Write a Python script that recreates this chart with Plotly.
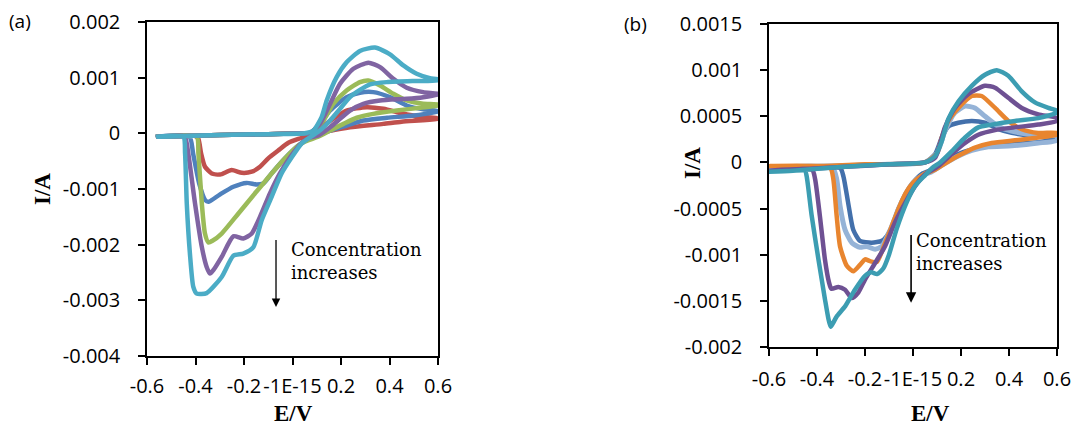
import plotly.graph_objects as go

# ---------------- data: panel (a), current in A ----------------
a_red_x = [-0.555, -0.45, -0.3, -0.1, 0.03, 0.07, 0.12, 0.168, 0.223, 0.306, 0.375, 0.45, 0.52, 0.6,
           0.6, 0.45, 0.374, 0.237, 0.15, 0.072, 0.024, -0.017, -0.059, -0.100, -0.134, -0.168, -0.209,
           -0.251, -0.299, -0.333, -0.361, -0.377, -0.388, -0.40, -0.555]
a_red_y = [-0.06e-3, -0.05e-3, -0.03e-3, -0.015e-3, 0.0, 0.0, 0.12e-3, 0.26e-3, 0.41e-3, 0.47e-3, 0.44e-3, 0.36e-3, 0.30e-3, 0.27e-3,
           0.26e-3, 0.21e-3, 0.17e-3, 0.11e-3, 0.04e-3, -0.04e-3, -0.10e-3, -0.17e-3, -0.31e-3, -0.45e-3, -0.60e-3, -0.69e-3, -0.71e-3,
           -0.66e-3, -0.74e-3, -0.72e-3, -0.60e-3, -0.36e-3, -0.10e-3, -0.05e-3, -0.06e-3]

a_blue_x = [-0.555, -0.45, -0.3, -0.1, 0.03, 0.07, 0.11, 0.155, 0.223, 0.278, 0.333, 0.402, 0.471, 0.539, 0.6,
            0.6, 0.5, 0.39, 0.292, 0.223, 0.155, 0.1, 0.05, 0.024, -0.031, -0.086, -0.12, -0.148, -0.189,
            -0.244, -0.30, -0.347, -0.36, -0.385, -0.41, -0.425, -0.555]
a_blue_y = [-0.06e-3, -0.05e-3, -0.03e-3, -0.015e-3, 0.0, 0.0, 0.15e-3, 0.41e-3, 0.65e-3, 0.73e-3, 0.74e-3, 0.65e-3, 0.50e-3, 0.43e-3, 0.40e-3,
            0.39e-3, 0.32e-3, 0.28e-3, 0.23e-3, 0.14e-3, 0.05e-3, -0.04e-3, -0.14e-3, -0.22e-3, -0.45e-3, -0.72e-3, -0.90e-3, -0.92e-3, -0.89e-3,
            -0.96e-3, -1.10e-3, -1.23e-3, -1.20e-3, -0.90e-3, -0.36e-3, -0.06e-3, -0.06e-3]

a_green_x = [-0.555, -0.45, -0.3, -0.1, 0.03, 0.07, 0.127, 0.168, 0.223, 0.278, 0.313, 0.361, 0.416, 0.471, 0.539, 0.6,
             0.6, 0.526, 0.43, 0.333, 0.265, 0.21, 0.155, 0.1, 0.05, 0.024, -0.031, -0.086, -0.155, -0.223,
             -0.292, -0.33, -0.347, -0.361, -0.374, -0.388, -0.395, -0.555]
a_green_y = [-0.06e-3, -0.05e-3, -0.03e-3, -0.015e-3, 0.0, 0.0, 0.23e-3, 0.53e-3, 0.77e-3, 0.92e-3, 0.95e-3, 0.86e-3, 0.71e-3, 0.59e-3, 0.53e-3, 0.52e-3,
             0.50e-3, 0.46e-3, 0.41e-3, 0.35e-3, 0.28e-3, 0.17e-3, 0.05e-3, -0.07e-3, -0.15e-3, -0.22e-3, -0.45e-3, -0.72e-3, -1.08e-3, -1.44e-3,
             -1.80e-3, -1.93e-3, -1.96e-3, -1.80e-3, -1.26e-3, -0.36e-3, -0.06e-3, -0.06e-3]

a_purple_x = [-0.555, -0.45, -0.3, -0.1, 0.03, 0.07, 0.113, 0.155, 0.196, 0.251, 0.313, 0.361, 0.416, 0.471, 0.539, 0.6,
              0.6, 0.539, 0.471, 0.361, 0.292, 0.237, 0.196, 0.155, 0.106, 0.07, 0.038, -0.01, -0.052, -0.093, -0.134,
              -0.168, -0.203, -0.244, -0.292, -0.325, -0.34, -0.354, -0.374, -0.402, -0.43, -0.445, -0.555]
a_purple_y = [-0.06e-3, -0.05e-3, -0.03e-3, -0.015e-3, 0.0, 0.0, 0.17e-3, 0.53e-3, 0.89e-3, 1.16e-3, 1.27e-3, 1.19e-3, 0.98e-3, 0.82e-3, 0.74e-3, 0.71e-3,
              0.70e-3, 0.65e-3, 0.62e-3, 0.59e-3, 0.53e-3, 0.41e-3, 0.26e-3, 0.11e-3, -0.04e-3, -0.08e-3, -0.17e-3, -0.43e-3, -0.72e-3, -1.08e-3, -1.50e-3,
              -1.80e-3, -1.89e-3, -1.85e-3, -2.22e-3, -2.45e-3, -2.52e-3, -2.40e-3, -2.04e-3, -1.26e-3, -0.36e-3, -0.06e-3, -0.06e-3]

a_cyan_x = [-0.555, -0.45, -0.3, -0.1, 0.05, 0.086, 0.12, 0.141, 0.182, 0.224, 0.278, 0.34, 0.402, 0.457, 0.512, 0.567, 0.6,
            0.6, 0.498, 0.388, 0.32, 0.278, 0.237, 0.196, 0.155, 0.113, 0.079, 0.038, -0.003, -0.045, -0.086, -0.127,
            -0.162, -0.203, -0.244, -0.292, -0.354, -0.395, -0.409, -0.423, -0.436, -0.443, -0.45, -0.555]
a_cyan_y = [-0.06e-3, -0.05e-3, -0.03e-3, -0.015e-3, 0.0, 0.05e-3, 0.29e-3, 0.59e-3, 1.01e-3, 1.28e-3, 1.48e-3, 1.54e-3, 1.42e-3, 1.22e-3, 1.07e-3, 0.99e-3, 0.97e-3,
            0.95e-3, 0.94e-3, 0.92e-3, 0.88e-3, 0.78e-3, 0.65e-3, 0.44e-3, 0.23e-3, 0.05e-3, -0.05e-3, -0.18e-3, -0.43e-3, -0.72e-3, -1.14e-3, -1.56e-3,
            -2.05e-3, -2.16e-3, -2.20e-3, -2.58e-3, -2.87e-3, -2.88e-3, -2.76e-3, -2.16e-3, -1.26e-3, -0.36e-3, -0.06e-3, -0.06e-3]

# ---------------- data: panel (b), current in A ----------------
b_dblue_x = [-0.6, -0.3, -0.1, 0.05, 0.092, 0.12, 0.147, 0.189, 0.245, 0.3, 0.356, 0.411, 0.494, 0.6,
             0.6, 0.522, 0.411, 0.314, 0.245, 0.189, 0.133, 0.078, 0.04, 0.0, -0.03, -0.06, -0.085, -0.11, -0.13,
             -0.172, -0.221, -0.249, -0.27, -0.29, -0.304, -0.6]
b_dblue_y = [-0.05e-3, -0.04e-3, -0.02e-3, 0.0, 0.09e-3, 0.27e-3, 0.39e-3, 0.43e-3, 0.45e-3, 0.43e-3, 0.36e-3, 0.32e-3, 0.29e-3, 0.27e-3,
             0.26e-3, 0.22e-3, 0.20e-3, 0.18e-3, 0.14e-3, 0.09e-3, 0.01e-3, -0.08e-3, -0.12e-3, -0.22e-3, -0.34e-3, -0.50e-3, -0.68e-3, -0.80e-3, -0.85e-3,
             -0.87e-3, -0.85e-3, -0.73e-3, -0.44e-3, -0.15e-3, -0.06e-3, -0.05e-3]

b_lblue_x = [-0.6, -0.35, -0.1, 0.05, 0.1, 0.133, 0.175, 0.217, 0.258, 0.3, 0.356, 0.411, 0.494, 0.6,
             0.6, 0.522, 0.411, 0.314, 0.245, 0.189, 0.133, 0.078, 0.04, 0.0, -0.03, -0.06, -0.09, -0.13, -0.158,
             -0.193, -0.221, -0.255, -0.283, -0.304, -0.318, -0.335, -0.6]
b_lblue_y = [-0.05e-3, -0.04e-3, -0.02e-3, 0.0, 0.10e-3, 0.34e-3, 0.54e-3, 0.61e-3, 0.59e-3, 0.50e-3, 0.39e-3, 0.34e-3, 0.30e-3, 0.28e-3,
             0.24e-3, 0.21e-3, 0.18e-3, 0.17e-3, 0.13e-3, 0.07e-3, -0.01e-3, -0.10e-3, -0.14e-3, -0.22e-3, -0.34e-3, -0.50e-3, -0.70e-3, -0.91e-3, -0.94e-3,
             -0.91e-3, -0.92e-3, -0.87e-3, -0.73e-3, -0.47e-3, -0.18e-3, -0.06e-3, -0.05e-3]

b_orange_x = [-0.6, -0.4, -0.2, 0.05, 0.1, 0.12, 0.147, 0.189, 0.245, 0.286, 0.342, 0.397, 0.453, 0.522, 0.6,
              0.6, 0.522, 0.425, 0.328, 0.258, 0.203, 0.147, 0.092, 0.05, 0.0, -0.03, -0.06, -0.09, -0.12, -0.151,
              -0.179, -0.2, -0.221, -0.249, -0.276, -0.304, -0.318, -0.332, -0.345, -0.6]
b_orange_y = [-0.04e-3, -0.04e-3, -0.02e-3, 0.0, 0.10e-3, 0.27e-3, 0.45e-3, 0.59e-3, 0.72e-3, 0.72e-3, 0.59e-3, 0.45e-3, 0.36e-3, 0.32e-3, 0.32e-3,
              0.30e-3, 0.27e-3, 0.24e-3, 0.21e-3, 0.16e-3, 0.09e-3, 0.01e-3, -0.08e-3, -0.12e-3, -0.22e-3, -0.33e-3, -0.50e-3, -0.70e-3, -0.90e-3, -1.08e-3,
              -1.07e-3, -1.05e-3, -1.11e-3, -1.18e-3, -1.12e-3, -0.91e-3, -0.58e-3, -0.18e-3, -0.06e-3, -0.04e-3]

b_purple_x = [-0.6, -0.45, -0.3, -0.1, 0.05, 0.092, 0.133, 0.175, 0.23, 0.3, 0.342, 0.397, 0.453, 0.522, 0.6,
              0.6, 0.522, 0.425, 0.342, 0.272, 0.217, 0.161, 0.105, 0.05, 0.008, -0.033, -0.075, -0.117, -0.158, -0.2,
              -0.228, -0.255, -0.283, -0.311, -0.34, -0.35, -0.367, -0.388, -0.408, -0.42, -0.6]
b_purple_y = [-0.09e-3, -0.07e-3, -0.05e-3, -0.02e-3, 0.0, 0.05e-3, 0.38e-3, 0.59e-3, 0.74e-3, 0.83e-3, 0.81e-3, 0.70e-3, 0.59e-3, 0.52e-3, 0.48e-3,
              0.45e-3, 0.41e-3, 0.38e-3, 0.35e-3, 0.30e-3, 0.21e-3, 0.09e-3, -0.04e-3, -0.13e-3, -0.26e-3, -0.44e-3, -0.65e-3, -0.91e-3, -1.09e-3, -1.27e-3,
              -1.41e-3, -1.47e-3, -1.38e-3, -1.35e-3, -1.37e-3, -1.30e-3, -1.05e-3, -0.58e-3, -0.18e-3, -0.08e-3, -0.09e-3]

b_teal_x = [-0.6, -0.5, -0.3, -0.1, 0.05, 0.092, 0.12, 0.147, 0.189, 0.245, 0.3, 0.349, 0.397, 0.453, 0.508, 0.564, 0.6,
            0.6, 0.522, 0.425, 0.328, 0.272, 0.217, 0.161, 0.113, 0.08, 0.05, 0.01, -0.026, -0.068, -0.10, -0.124,
            -0.15, -0.175, -0.2, -0.242, -0.283, -0.318, -0.333, -0.343, -0.352, -0.367, -0.394, -0.422, -0.443, -0.45, -0.5, -0.6]
b_teal_y = [-0.10e-3, -0.09e-3, -0.05e-3, -0.02e-3, 0.0, 0.07e-3, 0.23e-3, 0.47e-3, 0.66e-3, 0.83e-3, 0.95e-3, 1.00e-3, 0.94e-3, 0.77e-3, 0.65e-3, 0.59e-3, 0.56e-3,
            0.54e-3, 0.48e-3, 0.45e-3, 0.41e-3, 0.38e-3, 0.27e-3, 0.12e-3, 0.0, -0.06e-3, -0.14e-3, -0.25e-3, -0.43e-3, -0.72e-3, -1.0e-3, -1.15e-3,
            -1.21e-3, -1.19e-3, -1.23e-3, -1.38e-3, -1.56e-3, -1.67e-3, -1.74e-3, -1.78e-3, -1.70e-3, -1.48e-3, -1.05e-3, -0.58e-3, -0.15e-3, -0.09e-3, -0.09e-3, -0.10e-3]

# ---------------- tick labels ----------------
x_tickvals = [-0.6, -0.4, -0.2, 0.0, 0.2, 0.4, 0.6]
x_ticktext = ["-0.6", "-0.4", "-0.2", "-1E-15", "0.2", "0.4", "0.6"]
a_y_tickvals = [0.002, 0.001, 0.0, -0.001, -0.002, -0.003, -0.004]
a_y_ticktext = ["0.002", "0.001", "0", "-0.001", "-0.002", "-0.003", "-0.004"]
b_y_tickvals = [0.0015, 0.001, 0.0005, 0.0, -0.0005, -0.001, -0.0015, -0.002]
b_y_ticktext = ["0.0015", "0.001", "0.0005", "0", "-0.0005", "-0.001", "-0.0015", "-0.002"]

# ---------------- figure ----------------
fig = go.Figure()

a_series = [
    (a_red_x, a_red_y, "#C0504D"),
    (a_blue_x, a_blue_y, "#4F81BD"),
    (a_green_x, a_green_y, "#9BBB59"),
    (a_purple_x, a_purple_y, "#8064A2"),
    (a_cyan_x, a_cyan_y, "#4BACC6"),
]
for xs, ys, col in a_series:
    fig.add_trace(go.Scatter(x=xs, y=ys, mode="lines", xaxis="x", yaxis="y",
                             line=dict(color=col, width=4.5, shape="spline", smoothing=0.6),
                             showlegend=False, hoverinfo="skip"))

b_series = [
    (b_dblue_x, b_dblue_y, "#4370AB", 4.5),
    (b_lblue_x, b_lblue_y, "#95B3D7", 5),
    (b_orange_x, b_orange_y, "#E8852F", 4.5),
    (b_purple_x, b_purple_y, "#6E5193", 4.5),
    (b_teal_x, b_teal_y, "#3C9DB2", 4.5),
]
for xs, ys, col, w in b_series:
    fig.add_trace(go.Scatter(x=xs, y=ys, mode="lines", xaxis="x2", yaxis="y2",
                             line=dict(color=col, width=w, shape="spline", smoothing=0.6),
                             showlegend=False, hoverinfo="skip"))

tick_font = dict(family="Open Sans", size=20, color="black")
common_x = dict(range=[-0.6, 0.6], tickmode="array", tickvals=x_tickvals, ticktext=x_ticktext,
                tickangle=0, ticks="outside", ticklen=7, tickwidth=1.5, tickcolor="black",
                showline=True, linecolor="black", linewidth=1.5, mirror=True, automargin=False,
                showgrid=False, zeroline=False, tickfont=tick_font)
common_y = dict(tickmode="array", ticks="outside", ticklen=7, tickwidth=1.5, tickcolor="black",
                showline=True, linecolor="black", linewidth=1.5, mirror=True, automargin=False,
                showgrid=False, zeroline=False, tickfont=tick_font, ticklabelstandoff=14)

fig.update_layout(
    template="none",
    width=1075, height=427, margin=dict(l=0, r=0, t=0, b=0, autoexpand=False),
    paper_bgcolor="white", plot_bgcolor="white",
    xaxis=dict(domain=[147/1075, 438/1075], anchor="y", ticklabelstandoff=4, **common_x),
    yaxis=dict(domain=[1-356/427, 1-22/427], anchor="x", range=[-0.004, 0.002],
               tickvals=a_y_tickvals, ticktext=a_y_ticktext, **common_y),
    xaxis2=dict(domain=[769/1075, 1057/1075], anchor="y2", ticklabelstandoff=6, **common_x),
    yaxis2=dict(domain=[1-347/427, 1-24/427], anchor="x2", range=[-0.002, 0.0015],
                tickvals=b_y_tickvals, ticktext=b_y_ticktext, **common_y),
)

title_font = dict(family="Liberation Serif", size=23, color="black")
label_font = dict(family="Open Sans", size=19, color="black")
note_font = dict(family="DejaVu Serif", size=18, color="black")

def paper_text(text, px, py, font, angle=0):
    return dict(text=text, x=px/1075, y=1-py/427, xref="paper", yref="paper", showarrow=False,
                xanchor="center", yanchor="middle", textangle=angle, font=font)

annotations = [
    paper_text("(a)", 20, 21, label_font),
    paper_text("(b)", 635, 24, label_font),
    paper_text("<b>I/A</b>", 42, 189, title_font, -90),
    paper_text("<b>I/A</b>", 692, 163, title_font, -90),
    paper_text("<b>E/V</b>", 293, 413, title_font),
    paper_text("<b>E/V</b>", 930, 413, title_font),
    # panel (a) note + arrow
    dict(text="Concentration<br>increases", x=-0.014, y=-0.00186, xref="x", yref="y", xanchor="left",
         yanchor="top", align="left", showarrow=False, font=note_font),
    dict(text="", x=-0.068, y=-0.00312, ax=-0.068, ay=-0.00189, xref="x", yref="y", axref="x", ayref="y",
         showarrow=True, arrowhead=2, arrowsize=1.3, arrowwidth=1.3, arrowcolor="black"),
    # panel (b) note + arrow
    dict(text="Concentration<br>increases", x=0.006, y=-0.00071, xref="x2", yref="y2", xanchor="left",
         yanchor="top", align="left", showarrow=False, font=note_font),
    dict(text="", x=-0.008, y=-0.00152, ax=-0.008, ay=-0.00077, xref="x2", yref="y2", axref="x2", ayref="y2",
         showarrow=True, arrowhead=2, arrowsize=1.3, arrowwidth=1.6, arrowcolor="black"),
]
fig.update_layout(annotations=annotations)

fig.write_html("out.html")
